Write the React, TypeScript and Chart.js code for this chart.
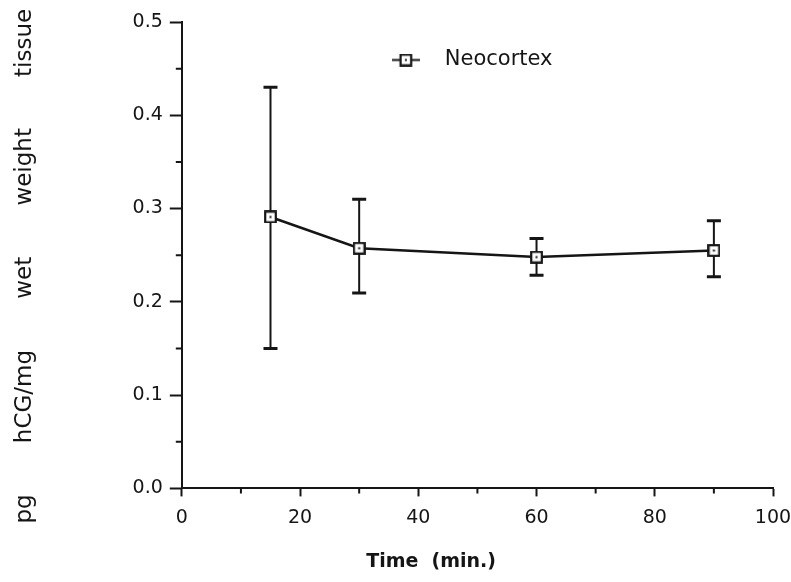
import React, { useEffect, useRef } from 'react';
import { Chart, registerables } from 'chart.js';

Chart.register(...registerables);

// ---- data ----
const timeMin = [15, 30, 60, 90];
const neocortex = [0.291, 0.2575, 0.248, 0.255];
const errLow = [0.15, 0.2095, 0.2285, 0.227];
const errHigh = [0.43, 0.31, 0.268, 0.287];
const xTickLabels = ['0', '20', '40', '60', '80', '100'];
const yTickLabels = ['0.0', '0.1', '0.2', '0.3', '0.4', '0.5'];
const xMinorTicks = [10, 30, 50, 70, 90];
const yMinorTicks = [0.05, 0.15, 0.25, 0.35, 0.45];
const seriesLabel = 'Neocortex';
const xTitle = 'Time  (min.)';
const yTitleWords = ['pg', 'hCG/mg', 'wet', 'weight', 'tissue'];

const INK = '#151515';
const FAMILY = '"DejaVu Sans", "Liberation Sans", Arial, sans-serif';

function makeMarker(withLine: boolean): HTMLCanvasElement {
  const c = document.createElement('canvas');
  const w = withLine ? 28 : 13;
  const h = 13;
  c.width = w;
  c.height = h;
  const g = c.getContext('2d') as CanvasRenderingContext2D;
  if (withLine) {
    g.strokeStyle = INK;
    g.lineWidth = 2;
    g.beginPath();
    g.moveTo(0, 6.5);
    g.lineTo(w, 6.5);
    g.stroke();
  }
  const sx = (w - 13) / 2;
  g.fillStyle = '#fff';
  g.fillRect(sx + 1, 1, 11, 11);
  g.strokeStyle = INK;
  g.lineWidth = 2.2;
  g.strokeRect(sx + 1.2, 1.2, 10.6, 10.6);
  g.fillStyle = INK;
  g.fillRect(sx + 5.5, 5.5, 2, 2);
  return c;
}

const errorBarPlugin = {
  id: 'errorBars',
  beforeDatasetsDraw(chart: any) {
    const { ctx, scales } = chart;
    const x = scales.x;
    const y = scales.y;
    ctx.save();
    ctx.strokeStyle = INK;
    timeMin.forEach((t, i) => {
      const px = x.getPixelForValue(t);
      const yl = y.getPixelForValue(errLow[i]);
      const yh = y.getPixelForValue(errHigh[i]);
      ctx.lineWidth = 2;
      ctx.beginPath();
      ctx.moveTo(px, yl);
      ctx.lineTo(px, yh);
      ctx.stroke();
      ctx.lineWidth = 3;
      ctx.beginPath();
      ctx.moveTo(px - 7, yl);
      ctx.lineTo(px + 7, yl);
      ctx.moveTo(px - 7, yh);
      ctx.lineTo(px + 7, yh);
      ctx.stroke();
    });
    ctx.restore();
  },
};

const minorTickPlugin = {
  id: 'minorTicks',
  afterDraw(chart: any) {
    const { ctx, scales, chartArea } = chart;
    const x = scales.x;
    const y = scales.y;
    ctx.save();
    ctx.strokeStyle = INK;
    ctx.lineWidth = 2;
    ctx.beginPath();
    xMinorTicks.forEach((v) => {
      const px = x.getPixelForValue(v);
      ctx.moveTo(px, chartArea.bottom);
      ctx.lineTo(px, chartArea.bottom + 5);
    });
    yMinorTicks.forEach((v) => {
      const py = y.getPixelForValue(v);
      ctx.moveTo(chartArea.left, py);
      ctx.lineTo(chartArea.left - 6, py);
    });
    ctx.stroke();
    ctx.restore();
  },
};

const legendSymbol = typeof document !== 'undefined' ? makeMarker(true) : null;

const insideLegendPlugin = {
  id: 'insideLegend',
  afterDraw(chart: any) {
    const { ctx, chartArea } = chart;
    const left = chartArea.left + 210;
    const cy = chartArea.top + 38;
    ctx.save();
    if (legendSymbol) ctx.drawImage(legendSymbol, left, cy - 6.5);
    ctx.fillStyle = INK;
    ctx.font = `21px ${FAMILY}`;
    ctx.textBaseline = 'middle';
    ctx.textAlign = 'left';
    ctx.fillText(chart.data.datasets[0].label, left + 53, cy);
    ctx.restore();
  },
};

export default function App() {
  const canvasRef = useRef<HTMLCanvasElement | null>(null);

  useEffect(() => {
    if (!canvasRef.current) return;
    const marker = makeMarker(false);
    const tickFont = { family: FAMILY, size: 19 };
    const chart = new Chart(canvasRef.current, {
      type: 'line',
      data: {
        datasets: [
          {
            label: seriesLabel,
            data: timeMin.map((t, i) => ({ x: t, y: neocortex[i] })),
            borderColor: INK,
            borderWidth: 2.5,
            pointStyle: marker as any,
            pointRadius: 6,
            pointBackgroundColor: '#fff',
            pointBorderColor: INK,
            tension: 0,
            fill: false,
          },
        ],
      },
      options: {
        animation: false,
        responsive: true,
        maintainAspectRatio: false,
        layout: { padding: { top: 22, right: 0, bottom: 0, left: 0 } },
        plugins: {
          legend: { display: false },
          tooltip: { enabled: false },
        },
        scales: {
          x: {
            type: 'linear',
            min: 0,
            max: 100,
            afterFit: (s: any) => {
              s.paddingRight = 18;
            },
            ticks: {
              stepSize: 20,
              autoSkip: false,
              maxRotation: 0,
              padding: 10,
              color: INK,
              font: tickFont,
              callback: (_v: any, i: number) => xTickLabels[i],
            },
            grid: {
              display: true,
              drawOnChartArea: false,
              drawTicks: true,
              tickLength: 8,
              tickWidth: 2,
              tickColor: INK,
            },
            border: { display: true, color: INK, width: 2 },
            title: {
              display: true,
              text: xTitle + ' '.repeat(14),
              color: INK,
              font: { family: FAMILY, size: 19, weight: 'bold' },
              padding: { top: 11, bottom: 9 },
            },
          },
          y: {
            type: 'linear',
            min: 0,
            max: 0.5,
            ticks: {
              stepSize: 0.1,
              padding: 7,
              color: INK,
              font: tickFont,
              callback: (_v: any, i: number) => yTickLabels[i],
            },
            grid: {
              display: true,
              drawOnChartArea: false,
              drawTicks: true,
              tickLength: 12,
              tickWidth: 2,
              tickColor: INK,
            },
            border: { display: true, color: INK, width: 2 },
            title: {
              display: true,
              text: yTitleWords.join('       ') + '   ',
              color: INK,
              font: { family: FAMILY, size: 23 },
              padding: { top: 11, bottom: 87 },
            },
          },
        },
      } as any,
      plugins: [errorBarPlugin, minorTickPlugin, insideLegendPlugin],
    });
    return () => chart.destroy();
  }, []);

  return (
    <div style={{ position: 'fixed', left: 0, top: 0, width: 791, height: 582, background: '#fff' }}>
      <canvas ref={canvasRef} />
    </div>
  );
}
